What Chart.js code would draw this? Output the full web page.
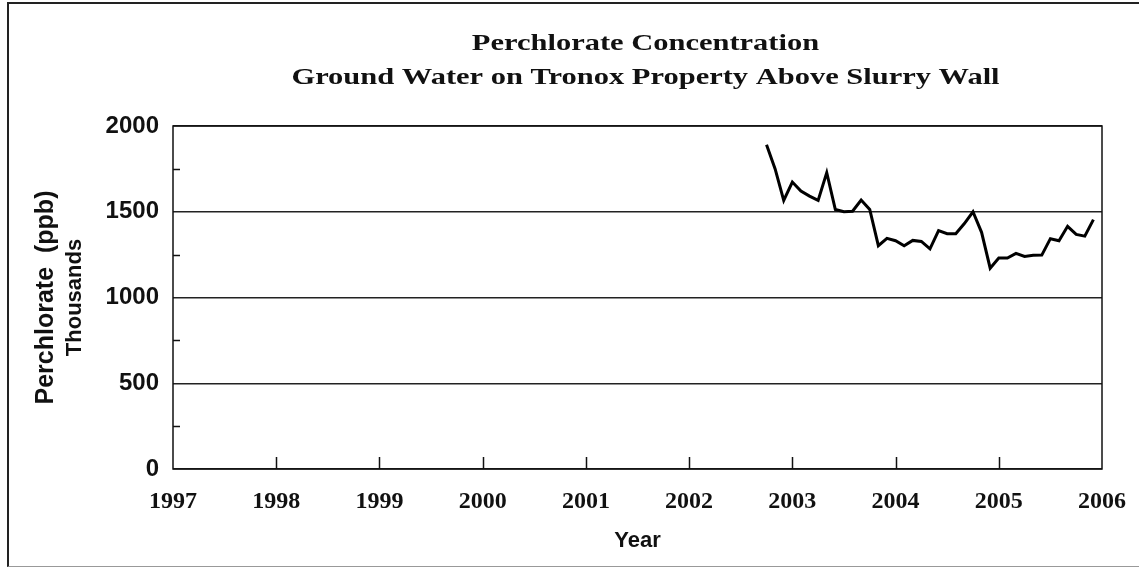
<!DOCTYPE html>
<html>
<head>
<meta charset="utf-8">
<script src="https://cdn.jsdelivr.net/npm/chart.js@4.4.0/dist/chart.umd.min.js"></script>
<style>
  html, body { margin: 0; padding: 0; background: #fff; }
  #wrap { position: relative; width: 1139px; height: 567px; overflow: hidden; }
  #frame {
    position: absolute; left: 7px; top: 2px; width: 1200px; height: 562px;
    border-left: 2px solid #222; border-top: 2px solid #222; border-bottom: 1px solid #999;
  }
  #chart { position: absolute; left: 0; top: 0; }
</style>
</head>
<body>
<div id="wrap">
  <div id="frame"></div>
  <canvas id="chart" width="1139" height="567"></canvas>
</div>
<script>
// sample month and perchlorate value (ppb, thousands)
const sampleMonths = [
  '2002-10', '2002-11', '2002-12',
  '2003-01', '2003-02', '2003-03', '2003-04', '2003-05', '2003-06',
  '2003-07', '2003-08', '2003-09', '2003-10', '2003-11', '2003-12',
  '2004-01', '2004-02', '2004-03', '2004-04', '2004-05', '2004-06',
  '2004-07', '2004-08', '2004-09', '2004-10', '2004-11', '2004-12',
  '2005-01', '2005-02', '2005-03', '2005-04', '2005-05', '2005-06',
  '2005-07', '2005-08', '2005-09', '2005-10', '2005-11', '2005-12'
];
const perchlorate = [
  1890, 1750, 1566,
  1673, 1621, 1591, 1566, 1728, 1513,
  1500, 1503, 1568, 1513, 1302, 1345,
  1331, 1302, 1333, 1327, 1284, 1390,
  1372, 1372, 1431, 1500, 1380, 1171,
  1230, 1230, 1257, 1239, 1246, 1247,
  1343, 1331, 1415, 1368, 1358, 1454
];
const yearTicks = [1997, 1998, 1999, 2000, 2001, 2002, 2003, 2004, 2005, 2006];
const majorY = [0, 500, 1000, 1500, 2000];
const minorY = [250, 750, 1250, 1750];

const titleLines = ['Perchlorate Concentration', 'Ground Water on Tronox Property Above Slurry Wall'];

// '2003-05' -> 2003.333
const toYear = s => {
  const [y, m] = s.split('-').map(Number);
  return y + (m - 1) / 12;
};

const points = sampleMonths.map((m, i) => ({ x: toYear(m), y: perchlorate[i] }));

// title (the original is drawn wide), box round the plot, inward ticks, "Thousands"
const frameTicks = {
  id: 'frameTicks',
  afterDraw(chart) {
    const { ctx, chartArea: a, scales } = chart;
    ctx.save();
    ctx.strokeStyle = '#111';
    ctx.lineWidth = 1.5;
    ctx.strokeRect(a.left, a.top, a.right - a.left, a.bottom - a.top);

    ctx.beginPath();
    yearTicks.slice(1, -1).forEach(v => {
      const x = Math.round(scales.x.getPixelForValue(v)) + 0.5;
      ctx.moveTo(x, a.bottom);
      ctx.lineTo(x, a.bottom - 12);
    });
    minorY.forEach(v => {
      const y = Math.round(scales.y.getPixelForValue(v)) + 0.5;
      ctx.moveTo(a.left, y);
      ctx.lineTo(a.left + 7, y);
    });
    ctx.stroke();
    ctx.restore();

    ctx.save();
    ctx.fillStyle = '#111';
    ctx.textAlign = 'center';
    ctx.textBaseline = 'middle';
    ctx.font = 'bold 24px "Liberation Serif", "Times New Roman", serif';
    const cx = (a.left + a.right) / 2 + 8;
    titleLines.forEach((t, i) => {
      ctx.save();
      ctx.translate(cx, 44 + i * 34);
      ctx.scale(1.27, 1);
      ctx.fillText(t, 0, 0);
      ctx.restore();
    });

    ctx.translate(75, (a.top + a.bottom) / 2);
    ctx.rotate(-Math.PI / 2);
    ctx.font = 'bold 22px "Liberation Sans", Arial, sans-serif';
    ctx.fillText('Thousands', 0, 0);
    ctx.restore();
  }
};

new Chart(document.getElementById('chart'), {
  type: 'line',
  data: {
    datasets: [{
      data: points,
      borderColor: '#000',
      borderWidth: 3,
      pointRadius: 0,
      tension: 0,
      fill: false
    }]
  },
  options: {
    responsive: false,
    animation: false,
    layout: { padding: { left: 0, right: 37, top: 126, bottom: 0 } },
    plugins: {
      legend: { display: false },
      tooltip: { enabled: false },
      title: { display: false }
    },
    scales: {
      x: {
        type: 'linear',
        min: 1997,
        max: 2006,
        afterFit: s => { s.height = 98; },
        afterBuildTicks: s => { s.ticks = yearTicks.map(v => ({ value: v })); },
        grid: { display: false, drawTicks: false },
        border: { display: false },
        ticks: {
          padding: 12,
          color: '#111',
          maxRotation: 0,
          autoSkip: false,
          callback: v => String(v),
          font: { family: '"Liberation Serif", "Times New Roman", serif', size: 24, weight: 'bold', lineHeight: 1.75 }
        },
        title: {
          display: true,
          text: 'Year',
          color: '#111',
          padding: { top: 0, bottom: 13 },
          font: { family: '"Liberation Sans", Arial, sans-serif', size: 22, weight: 'bold' }
        }
      },
      y: {
        min: 0,
        max: 2000,
        afterFit: s => { s.width = 173; },
        afterBuildTicks: s => { s.ticks = majorY.map(v => ({ value: v })); },
        grid: { color: '#222', lineWidth: 1.5, drawTicks: false },
        border: { display: false },
        ticks: {
          padding: 14,
          color: '#111',
          callback: v => String(v),
          font: { family: '"Liberation Sans", Arial, sans-serif', size: 24, weight: 'bold' }
        },
        title: {
          display: true,
          text: 'Perchlorate  (ppb)',
          color: '#111',
          padding: { top: 31, bottom: 0 },
          font: { family: '"Liberation Sans", Arial, sans-serif', size: 25, weight: 'bold' }
        }
      }
    }
  },
  plugins: [frameTicks]
});
</script>
</body>
</html>
